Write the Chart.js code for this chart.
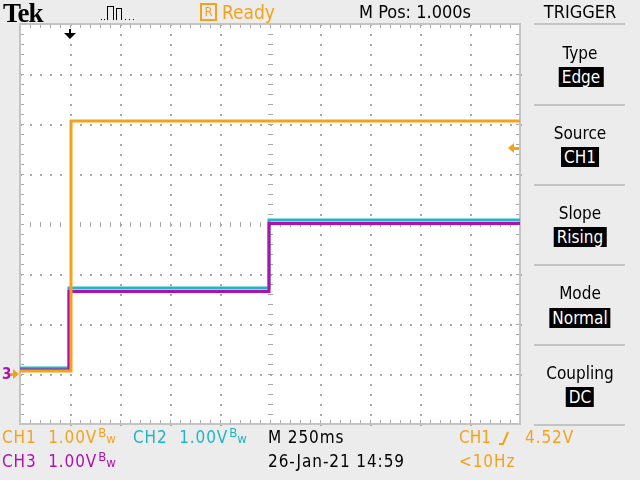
<!DOCTYPE html>
<html>
<head>
<meta charset="utf-8">
<script src="https://cdn.jsdelivr.net/npm/chart.js@4/dist/chart.umd.min.js"></script>
<style>
  html, body { margin: 0; padding: 0; background: #ececec; }
  #scope { position: relative; width: 640px; height: 480px; overflow: hidden; background: #ececec;
           font-family: "DejaVu Sans Condensed", "DejaVu Sans", sans-serif; font-size: 17px; }
  #scope canvas { position: absolute; left: 0; top: 0; }
  .t { position: absolute; white-space: nowrap; line-height: 20px; transform: translateY(-50%); }
  .c { transform: translate(-50%, -50%); }
  .box { background: #000; color: #fff; padding: 0 3px; }
  .ls { letter-spacing: 0.9px; }
  .bw { font-size: 13px; display: inline-block; vertical-align: top; margin-left: 1px; line-height: 12px; letter-spacing: 0; }
  .bw span { position: relative; top: 6px; }
  .sep { position: absolute; left: 534px; width: 91px; height: 2px; background: #c4c4c4; }
</style>
</head>
<body>
<div id="scope">
  <canvas id="tek" width="640" height="480"></canvas>

  <div class="t" style="left:3px; top:13px; font-family:'Liberation Serif','DejaVu Serif',serif; font-weight:bold; font-size:27px; letter-spacing:-1px;">Tek</div>
  <div class="t" style="left:200px; top:12px; width:13px; height:14px; border:2px solid #f5a21b; line-height:14px; font-size:13px; color:#f5a21b; text-align:center;">R</div>
  <div class="t" style="left:222px; top:12px; color:#f5a21b; font-size:19px;">Ready</div>
  <div class="t c" style="left:415px; top:12px; font-size:18px;">M Pos: 1.000s</div>
  <div class="t c" style="left:580px; top:12px; font-size:18px;">TRIGGER</div>

  <div class="sep" style="top:23px;"></div>
  <div class="t c" style="left:580px; top:53px;">Type</div>
  <div class="t c box" style="left:581px; top:77px;">Edge</div>
  <div class="sep" style="top:104px;"></div>
  <div class="t c" style="left:580px; top:133px;">Source</div>
  <div class="t c box" style="left:580px; top:157px;">CH1</div>
  <div class="sep" style="top:184px;"></div>
  <div class="t c" style="left:580px; top:213px;">Slope</div>
  <div class="t c box" style="left:580px; top:237px;">Rising</div>
  <div class="sep" style="top:264px;"></div>
  <div class="t c" style="left:580px; top:293px;">Mode</div>
  <div class="t c box" style="left:580px; top:318px;">Normal</div>
  <div class="sep" style="top:344px;"></div>
  <div class="t c" style="left:580px; top:373px;">Coupling</div>
  <div class="t c box" style="left:580px; top:397px;">DC</div>
  <div class="sep" style="top:424px;"></div>

  <div class="t ls" style="left:2px; top:437px; color:#f5a21b;">CH1&nbsp; 1.00V<span class="bw">B<span>w</span></span></div>
  <div class="t ls" style="left:133px; top:437px; color:#1fb5c4;">CH2&nbsp; 1.00V<span class="bw">B<span>w</span></span></div>
  <div class="t ls" style="left:268px; top:437px;">M 250ms</div>
  <div class="t" style="left:459px; top:437px; color:#f5a21b;">CH1</div>
  <div class="t ls" style="left:525px; top:437px; color:#f5a21b;">4.52V</div>
  <div class="t ls" style="left:2px; top:461px; color:#b010b0;">CH3&nbsp; 1.00V<span class="bw">B<span>w</span></span></div>
  <div class="t ls" style="left:268px; top:461px;">26-Jan-21 14:59</div>
  <div class="t ls" style="left:459px; top:461px; color:#f5a21b;">&lt;10Hz</div>
</div>

<script>
// Datos (tiempo en s desde el disparo, tensión en V)
const ch1Time = [-0.25, 0.005, 2.25];
const ch1Volts = [0.06, 5.06, 5.06];
const ch2Time = [-0.25, -0.005, 0.995, 2.25];
const ch2Volts = [0.12, 1.72, 3.08, 3.08];
const ch3Time = [-0.25, -0.005, 0.995, 2.25];
const ch3Volts = [0.08, 1.65, 3.01, 3.01];

// Escalas: 10 divisiones x 250 ms, 8 divisiones x 1 V
const timeRange = [-0.25, 2.25];
const voltRange = [-1, 7];
const secPerDiv = 0.25;
const voltsPerDiv = 1;
const triggerTime = 0;
const triggerLevel = 4.52;
const groundLevel = 0;

const colorCH1 = '#f5a21b';
const colorCH2 = '#1fb5c4';
const colorCH3 = '#b010b0';

function puntos(t, v) {
    return t.map((x, i) => ({ x: x, y: v[i] }));
}

// Retícula estilo Tek, marcas de tierra / disparo
const reticula = {
    id: 'reticula',
    beforeDatasetsDraw(chart) {
        const ctx = chart.ctx;
        const xs = chart.scales.x, ys = chart.scales.y;
        const a = chart.chartArea;
        ctx.save();
        ctx.fillStyle = '#ffffff';
        ctx.fillRect(a.left, a.top, a.right - a.left, a.bottom - a.top);

        ctx.fillStyle = '#a8a8a8';
        const xMin = timeRange[0], yMin = voltRange[0];
        // líneas punteadas
        for (let i = 1; i < 10; i++) {
            const px = Math.round(xs.getPixelForValue(xMin + i * secPerDiv));
            for (let j = 0; j <= 40; j++) {
                const py = Math.round(ys.getPixelForValue(yMin + j * voltsPerDiv / 5));
                if (i === 5) ctx.fillRect(px - 2, py, 5, 1);
                else ctx.fillRect(px, py, 2, 2);
            }
        }
        for (let j = 1; j < 8; j++) {
            const py = Math.round(ys.getPixelForValue(yMin + j * voltsPerDiv));
            for (let i = 0; i <= 50; i++) {
                const px = Math.round(xs.getPixelForValue(xMin + i * secPerDiv / 5));
                if (j === 4) ctx.fillRect(px, py - 2, 1, 5);
                else ctx.fillRect(px, py, 2, 2);
            }
        }
        // marcas del borde
        for (let j = 0; j <= 40; j++) {
            const py = Math.round(ys.getPixelForValue(yMin + j * voltsPerDiv / 5));
            ctx.fillRect(a.left, py, 4, 1);
            ctx.fillRect(a.right - 4, py, 4, 1);
        }
        for (let i = 0; i <= 50; i++) {
            const px = Math.round(xs.getPixelForValue(xMin + i * secPerDiv / 5));
            ctx.fillRect(px, a.top, 1, 4);
            ctx.fillRect(px, a.bottom - 4, 1, 4);
        }
        ctx.strokeStyle = '#c4c4c4';
        ctx.lineWidth = 2;
        ctx.strokeRect(a.left, a.top, a.right - a.left, a.bottom - a.top);
        ctx.restore();
    },
    afterDraw(chart) {
        const ctx = chart.ctx;
        const xs = chart.scales.x, ys = chart.scales.y;
        const a = chart.chartArea;
        ctx.save();
        // posición de disparo (flecha arriba)
        const tx = Math.round(xs.getPixelForValue(triggerTime));
        ctx.fillStyle = '#000';
        ctx.fillRect(tx - 1, a.top + 5, 2, 6);
        ctx.beginPath();
        ctx.moveTo(tx - 6, a.top + 9);
        ctx.lineTo(tx + 6, a.top + 9);
        ctx.lineTo(tx, a.top + 15);
        ctx.closePath();
        ctx.fill();
        // nivel de disparo (flecha derecha)
        const ty = ys.getPixelForValue(triggerLevel);
        ctx.fillStyle = colorCH1;
        ctx.beginPath();
        ctx.moveTo(a.right - 12, ty);
        ctx.lineTo(a.right - 6, ty - 5);
        ctx.lineTo(a.right - 6, ty + 5);
        ctx.closePath();
        ctx.fill();
        ctx.fillRect(a.right - 7, ty - 1, 6, 3);
        // marcas de tierra a la izquierda
        const gy = ys.getPixelForValue(groundLevel);
        ctx.beginPath();
        ctx.moveTo(a.left - 1, gy);
        ctx.lineTo(a.left - 7, gy - 5);
        ctx.lineTo(a.left - 7, gy + 5);
        ctx.closePath();
        ctx.fill();
        ctx.fillRect(a.left - 10, gy - 1, 4, 3);
        ctx.fillStyle = colorCH3;
        ctx.font = 'bold 15px "DejaVu Sans Condensed", sans-serif';
        ctx.textBaseline = 'middle';
        ctx.fillText('3', 2, gy + 1);
        // símbolo de flanco de subida (texto de disparo)
        ctx.strokeStyle = colorCH1;
        ctx.lineWidth = 2;
        ctx.beginPath();
        ctx.moveTo(499, 444);
        ctx.lineTo(503, 444);
        ctx.lineTo(508, 432);
        ctx.stroke();
        // icono de adquisición
        ctx.fillStyle = '#000';
        const ix = 101, iy = 19;
        ctx.fillRect(ix, iy, 1, 1); ctx.fillRect(ix + 3, iy, 1, 1);
        ctx.fillRect(ix + 6, iy - 13, 1, 14);
        ctx.fillRect(ix + 6, iy - 13, 6, 1);
        ctx.fillRect(ix + 12, iy - 13, 1, 14);
        ctx.fillRect(ix + 15, iy - 11, 1, 12);
        ctx.fillRect(ix + 15, iy - 11, 5, 1);
        ctx.fillRect(ix + 20, iy - 11, 1, 12);
        ctx.fillRect(ix + 24, iy, 1, 1); ctx.fillRect(ix + 28, iy, 1, 1); ctx.fillRect(ix + 32, iy, 1, 1);
        ctx.restore();
    }
};

new Chart(document.getElementById('tek'), {
    type: 'line',
    data: {
        datasets: [
            { label: 'CH1', data: puntos(ch1Time, ch1Volts), borderColor: colorCH1, order: 0 },
            { label: 'CH3', data: puntos(ch3Time, ch3Volts), borderColor: colorCH3, order: 1 },
            { label: 'CH2', data: puntos(ch2Time, ch2Volts), borderColor: colorCH2, order: 2 }
        ]
    },
    options: {
        responsive: false,
        animation: false,
        layout: { padding: { left: 20, top: 24, right: 120, bottom: 56 } },
        elements: {
            line: { stepped: true, borderWidth: 3, fill: false },
            point: { radius: 0, hoverRadius: 0 }
        },
        scales: {
            x: { type: 'linear', min: timeRange[0], max: timeRange[1], display: false },
            y: { type: 'linear', min: voltRange[0], max: voltRange[1], display: false }
        },
        plugins: { legend: { display: false }, tooltip: { enabled: false } }
    },
    plugins: [reticula]
});
</script>
</body>
</html>
